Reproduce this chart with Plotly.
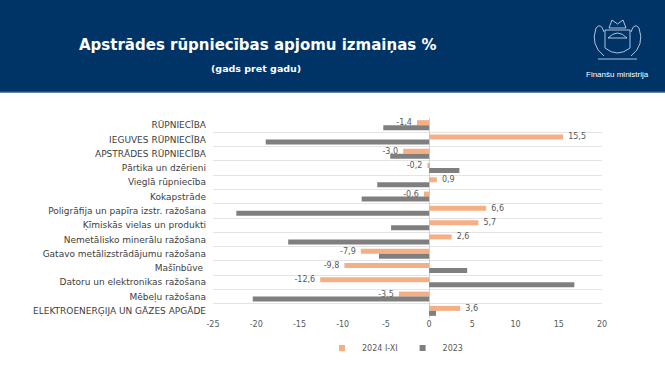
import plotly.graph_objects as go

categories = [
    "RŪPNIECĪBA",
    "IEGUVES RŪPNIECĪBA",
    "APSTRĀDES RŪPNIECĪBA",
    "Pārtika un dzērieni",
    "Vieglā rūpniecība",
    "Kokapstrāde",
    "Poligrāfija un papīra izstr. ražošana",
    "Ķīmiskās vielas un produkti",
    "Nemetālisko minerālu ražošana",
    "Gatavo metālizstrādājumu ražošana",
    "Mašīnbūve ",
    "Datoru un elektronikas ražošana",
    "Mēbeļu ražošana",
    "ELEKTROENERĢIJA UN GĀZES APGĀDE",
]
values_2024 = [-1.4, 15.5, -3.0, -0.2, 0.9, -0.6, 6.6, 5.7, 2.6, -7.9, -9.8, -12.6, -3.5, 3.6]
values_2023 = [-5.3, -18.9, -4.5, 3.5, -6.0, -7.8, -22.3, -4.4, -16.3, -5.8, 4.4, 16.8, -20.4, 0.8]
series_names = ["2024 I-XI", "2023"]
series_colors = ["#F4B084", "#7F7F7F"]
x_ticks = [-25, -20, -15, -10, -5, 0, 5, 10, 15, 20]

W, H = 665, 375
L, R, T, B = 213, 602, 118, 318
NBSP = "\u00a0"


def px(x):
    return (x - L) / (R - L)


def py(y):
    return (B - y) / (B - T)


def fmt(v):
    s = f"{v:.1f}".replace(".", ",")
    return NBSP * 2 + s if v >= 0 else s + NBSP * 2


fig = go.Figure()
fig.add_trace(go.Bar(
    y=categories, x=values_2024, orientation="h", name=series_names[0],
    marker=dict(color=series_colors[0], line=dict(width=0)),
    text=[fmt(v) for v in values_2024], textposition="outside", constraintext="none",
    textfont=dict(size=8, color="#595959", family="DejaVu Sans"),
    cliponaxis=False, showlegend=False,
))
fig.add_trace(go.Bar(
    y=categories, x=values_2023, orientation="h", name=series_names[1],
    marker=dict(color=series_colors[1], line=dict(width=0)), showlegend=False,
))
for name, col in zip(series_names, series_colors):
    fig.add_trace(go.Scatter(
        x=[None], y=[None], mode="markers", name=name,
        marker=dict(symbol="square", size=6, color=col), showlegend=True,
    ))

shapes = []
shapes.append(dict(type="rect", xref="paper", yref="paper", x0=px(0), x1=px(W), y0=py(0), y1=py(92),
                   fillcolor="#003366", line=dict(width=0), layer="below"))
shapes.append(dict(type="line", xref="paper", yref="paper", x0=px(0), x1=px(W), y0=py(92), y1=py(92),
                   line=dict(color="#2b5987", width=1.5)))
ec = "rgba(205,220,240,0.85)"
shapes.append(dict(type="path", xref="paper", yref="paper",
                   path=f"M {px(605)} {py(30)} L {px(630)} {py(30)} L {px(630)} {py(48)} "
                        f"Q {px(617.5)} {py(58)} {px(605)} {py(48)} Z",
                   line=dict(color=ec, width=1)))
shapes.append(dict(type="path", xref="paper", yref="paper",
                   path=f"M {px(608)} {py(38)} Q {px(617.5)} {py(28)} {px(627)} {py(38)} Z",
                   line=dict(color=ec, width=1)))
shapes.append(dict(type="path", xref="paper", yref="paper",
                   path=f"M {px(609)} {py(28)} L {px(612)} {py(20)} L {px(617.5)} {py(24)} "
                        f"L {px(623)} {py(20)} L {px(626)} {py(28)} Z",
                   line=dict(color=ec, width=1)))
shapes.append(dict(type="path", xref="paper", yref="paper",
                   path=f"M {px(604)} {py(56)} Q {px(590)} {py(45)} {px(596)} {py(28)} "
                        f"Q {px(601)} {py(22)} {px(604)} {py(32)}",
                   line=dict(color=ec, width=1)))
shapes.append(dict(type="path", xref="paper", yref="paper",
                   path=f"M {px(631)} {py(56)} Q {px(645)} {py(45)} {px(639)} {py(28)} "
                        f"Q {px(634)} {py(22)} {px(631)} {py(32)}",
                   line=dict(color=ec, width=1)))
shapes.append(dict(type="line", xref="paper", yref="paper", x0=px(598), x1=px(637), y0=py(59), y1=py(59),
                   line=dict(color=ec, width=1)))

annotations = [
    dict(text="<b>Apstrādes rūpniecības apjomu izmaiņas %</b>", xref="paper", yref="paper",
         x=px(257), y=py(45), xanchor="center", yanchor="middle", showarrow=False,
         font=dict(size=15, color="white", family="DejaVu Sans")),
    dict(text="<b>(gads pret gadu)</b>", xref="paper", yref="paper",
         x=px(256), y=py(68), xanchor="center", yanchor="middle", showarrow=False,
         font=dict(size=9.5, color="white", family="DejaVu Sans")),
    dict(text="Finanšu ministrija", xref="paper", yref="paper",
         x=px(617), y=py(74), xanchor="center", yanchor="middle", showarrow=False,
         font=dict(size=8, color="white", family="Liberation Sans")),
]

fig.update_layout(
    width=W, height=H,
    margin=dict(l=L, r=W - R, t=T, b=H - B, pad=0),
    paper_bgcolor="white", plot_bgcolor="white",
    barmode="group", bargap=0.3, bargroupgap=0,
    font=dict(family="DejaVu Sans", size=8, color="#595959"),
    shapes=shapes, annotations=annotations,
    showlegend=True,
    legend=dict(orientation="h", x=px(322), xanchor="left", y=py(348), yanchor="middle",
                font=dict(size=8, color="#595959"), itemwidth=30, traceorder="normal",
                bgcolor="rgba(0,0,0,0)"),
    xaxis=dict(range=[-25, 20], tickvals=x_ticks, ticktext=[str(v) for v in x_ticks],
               showgrid=False, zeroline=True, zerolinecolor="#D0D0D0", zerolinewidth=1,
               showline=False, ticks="", tickfont=dict(size=8, color="#595959"), fixedrange=True),
    yaxis=dict(autorange="reversed", type="category", tickson="boundaries", ticks="",
               showgrid=True, gridcolor="#E4E4E4", gridwidth=1, showline=False,
               tickfont=dict(size=9, color="#404040"), ticklabelstandoff=6),
)

fig.write_html("out.html", config={"displayModeBar": False},
               post_script="document.body.style.margin='0';document.body.style.padding='0';")
